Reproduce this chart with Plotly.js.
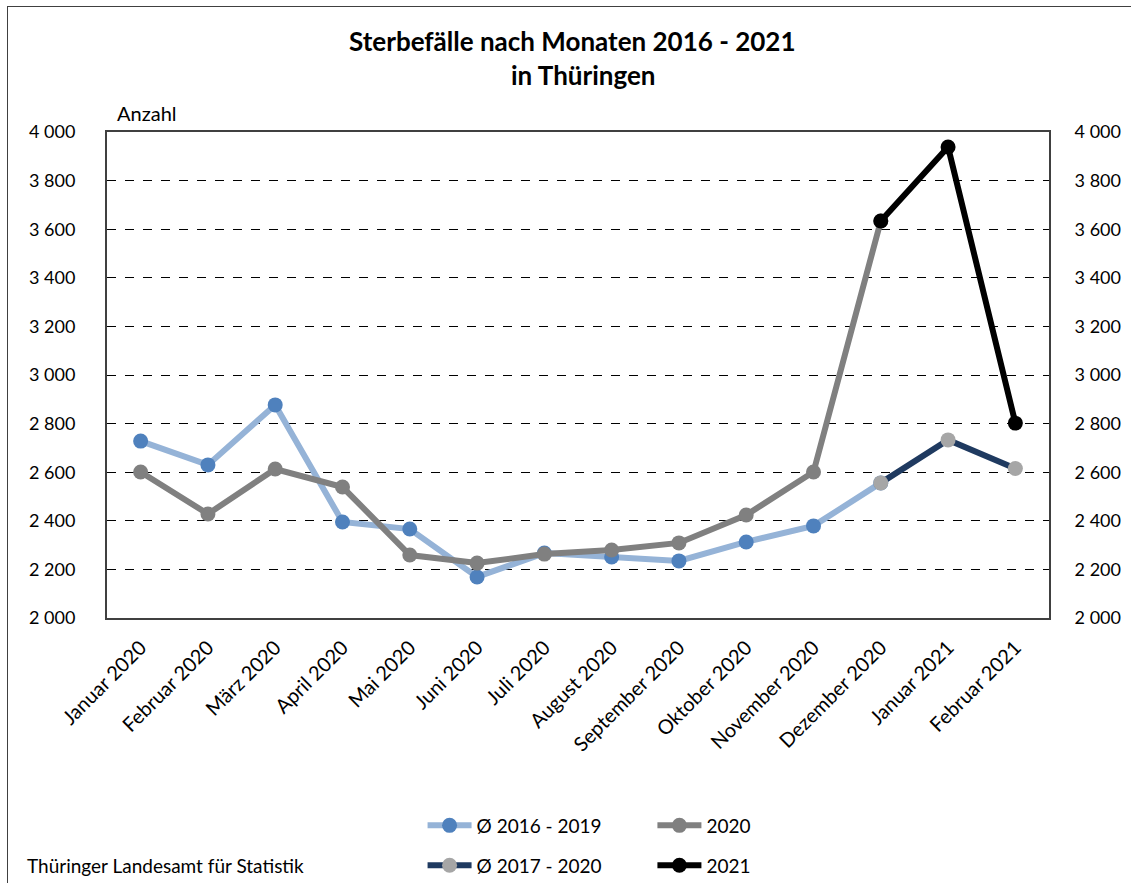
<!DOCTYPE html>
<html>
<head>
<meta charset="utf-8">
<script src="https://cdn.plot.ly/plotly-3.0.1.min.js"></script>
<style>
  html, body { margin: 0; padding: 0; background: #fff; overflow: hidden; }
  #frame { position: absolute; left: 7px; top: 6px; width: 1150px; height: 900px; border: 1.5px solid #404040; box-sizing: border-box; }
  #chart { position: absolute; left: 0; top: 0; width: 1131px; height: 883px; }
</style>
</head>
<body>
<div id="frame"></div>
<div id="chart"></div>
<script>
const months = ["Januar 2020", "Februar 2020", "März 2020", "April 2020", "Mai 2020", "Juni 2020",
  "Juli 2020", "August 2020", "September 2020", "Oktober 2020", "November 2020", "Dezember 2020",
  "Januar 2021", "Februar 2021"];

const avg1619Months = months.slice(0, 12);
const avg1619 = [2728, 2630, 2877, 2395, 2366, 2169, 2267, 2251, 2235, 2313, 2379, 2556];

const y2020Months = months.slice(0, 12);
const y2020 = [2601, 2428, 2613, 2539, 2259, 2226, 2263, 2280, 2309, 2424, 2601, 3634];

const avg1720Months = months.slice(11, 14);
const avg1720 = [2556, 2733, 2615];

const y2021Months = months.slice(11, 14);
const y2021 = [3634, 3938, 2802];

const yTicks = [2000, 2200, 2400, 2600, 2800, 3000, 3200, 3400, 3600, 3800, 4000];

const FONT = "Lato, 'Open Sans', sans-serif";

const traces = [
  { x: avg1619Months, y: avg1619, name: "Ø 2016 - 2019", mode: "lines+markers",
    line: { color: "#95B3D7", width: 6 }, marker: { color: "#4F81BD", size: 15 }, legend: "legend" },
  { x: y2020Months, y: y2020, name: "2020", mode: "lines+markers",
    line: { color: "#808080", width: 6 }, marker: { color: "#808080", size: 15 }, legend: "legend2" },
  { x: avg1720Months, y: avg1720, name: "Ø 2017 - 2020", mode: "lines+markers",
    line: { color: "#1F3A60", width: 6 }, marker: { color: "#A6A6A6", size: 15 }, legend: "legend3" },
  { x: y2021Months, y: y2021, name: "2021", mode: "lines+markers",
    line: { color: "#000000", width: 6 }, marker: { color: "#000000", size: 15 }, legend: "legend4" },
  { x: months, y: months.map(() => null), yaxis: "y2", showlegend: false, hoverinfo: "skip", mode: "lines" }
];

const legendBase = {
  orientation: "v", bgcolor: "rgba(0,0,0,0)", borderwidth: 0,
  font: { family: FONT, size: 19, color: "#000" }, xanchor: "left", yanchor: "middle",
  itemwidth: 44
};

const layout = {
  width: 1131, height: 883,
  paper_bgcolor: "rgba(0,0,0,0)", plot_bgcolor: "#fff",
  margin: { l: 107, r: 82, t: 132, b: 265, autoexpand: false },
  separators: ", ",
  font: { family: FONT, size: 18, color: "#000" },
  title: {
    text: "<b>Sterbefälle nach Monaten 2016 - 2021</b>",
    font: { family: FONT, size: 26, color: "#000" },
    x: 0.506, xanchor: "center", y: 1 - 42 / 883, yanchor: "middle"
  },
  xaxis: {
    type: "category", categoryarray: months, range: [-0.5, 13.5],
    tickangle: -45, showgrid: false, ticks: "",
    showline: true, linecolor: "#404040", linewidth: 2, mirror: true,
    ticklabelstandoff: 8,
    tickfont: { family: FONT, size: 20, color: "#000" }
  },
  yaxis: {
    range: [2000, 4000], tickvals: yTicks, separatethousands: true, tickformat: ",d",
    showgrid: true, gridcolor: "#000", gridwidth: 1, griddash: "dash",
    showline: true, linecolor: "#404040", linewidth: 2, ticks: "",
    zeroline: false, ticklabelstandoff: 26,
    tickfont: { family: FONT, size: 18, color: "#000" }
  },
  yaxis2: {
    overlaying: "y", side: "right", range: [2000, 4000], tickvals: yTicks,
    separatethousands: true, tickformat: ",d", showgrid: false,
    showline: true, linecolor: "#404040", linewidth: 2, ticks: "", zeroline: false,
    ticklabelstandoff: 20,
    tickfont: { family: FONT, size: 18, color: "#000" }
  },
  showlegend: true,
  legend: Object.assign({}, legendBase, { x: 0.335, y: -0.427 }),
  legend2: Object.assign({}, legendBase, { x: 0.579, y: -0.427 }),
  legend3: Object.assign({}, legendBase, { x: 0.335, y: -0.509 }),
  legend4: Object.assign({}, legendBase, { x: 0.579, y: -0.509 }),
  annotations: [
    { text: "<b>in Thüringen</b>", xref: "paper", yref: "paper", x: 0.506, y: (618 - 75) / 486,
      xanchor: "center", yanchor: "middle", showarrow: false,
      font: { family: FONT, size: 26, color: "#000" } },
    { text: "Anzahl", xref: "paper", yref: "paper", x: 0.009, y: 1.01, xanchor: "left", yanchor: "bottom",
      showarrow: false, font: { family: FONT, size: 20, color: "#000" } },
    { text: "Thüringer Landesamt für Statistik", xref: "paper", yref: "paper",
      x: -0.087, y: -0.51, xanchor: "left", yanchor: "middle",
      showarrow: false, font: { family: FONT, size: 19, color: "#000" } }
  ]
};

Plotly.newPlot("chart", traces, layout, { displayModeBar: false, staticPlot: true });
</script>
</body>
</html>
